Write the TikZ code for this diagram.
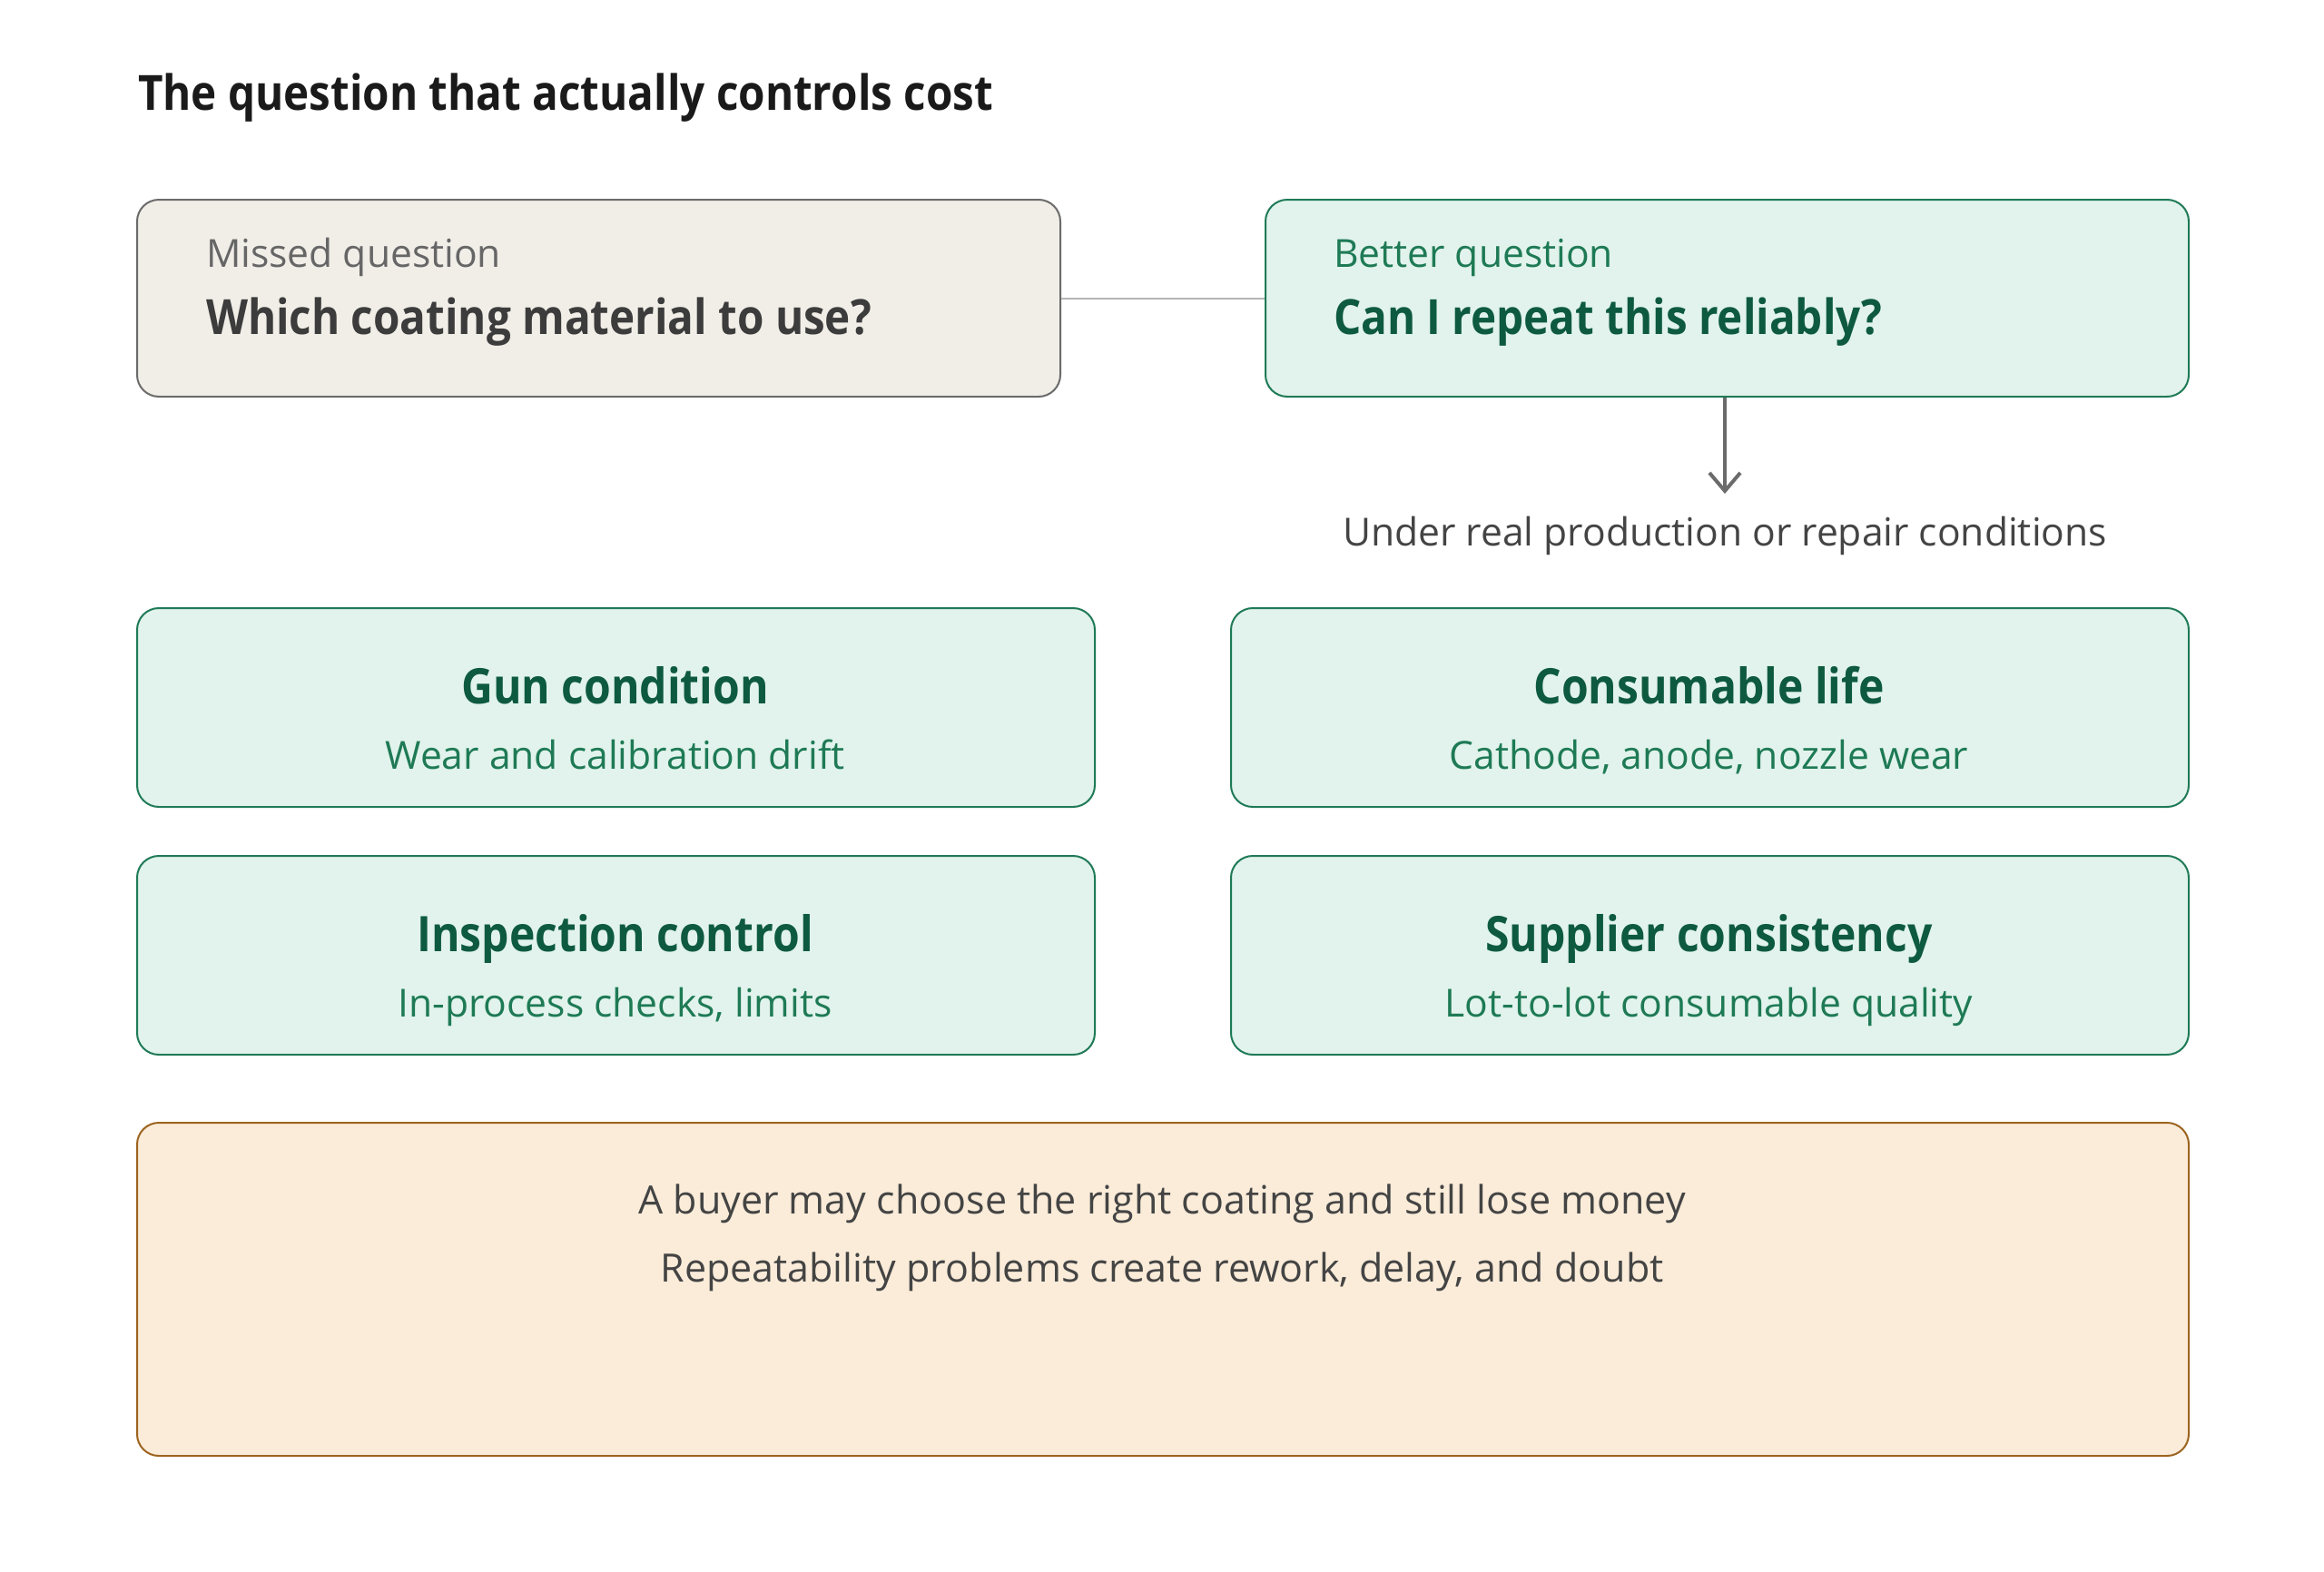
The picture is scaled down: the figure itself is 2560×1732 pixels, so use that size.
\documentclass[tikz,border=0pt]{standalone}
\usepackage{fontspec}
\setmainfont{Open Sans}[BoldFeatures={FakeStretch=0.89}]
\usetikzlibrary{arrows.meta}
\definecolor{missfill}{HTML}{F1EEE8}
\definecolor{missdraw}{HTML}{6B6B6B}
\definecolor{misslabel}{HTML}{666666}
\definecolor{missmain}{HTML}{3C3C3C}
\definecolor{greenfill}{HTML}{E1F3EC}
\definecolor{greendraw}{HTML}{1F7A57}
\definecolor{greenlabel}{HTML}{1E7A55}
\definecolor{greenmain}{HTML}{0E5A40}
\definecolor{notefill}{HTML}{FAECD9}
\definecolor{notedraw}{HTML}{9C6420}
\definecolor{linkgray}{HTML}{B5B5B5}
\definecolor{arrowgray}{HTML}{6B6B6B}
\definecolor{bodytext}{HTML}{444444}
\definecolor{titletext}{HTML}{1A1A1A}
\tikzset{
  boxbase/.style={draw, line width=2pt, rounded corners=24pt, anchor=north west, inner sep=0pt},
  missbox/.style={boxbase, fill=missfill, draw=missdraw, minimum width=1017pt, minimum height=217pt},
  betterbox/.style={boxbase, fill=greenfill, draw=greendraw, minimum width=1017pt, minimum height=217pt},
  gridbox/.style={boxbase, fill=greenfill, draw=greendraw, minimum width=1055pt, minimum height=219pt},
  notebox/.style={boxbase, fill=notefill, draw=notedraw, minimum width=2260pt, minimum height=367pt},
  txt/.style={inner sep=0pt, outer sep=0pt},
  smalllabel/.style={txt, anchor=base west, font=\fontsize{42.6}{50}\selectfont},
  mainq/.style={txt, anchor=base west, font=\fontsize{53.5}{62}\selectfont\bfseries},
  gridtitle/.style={txt, anchor=base, font=\fontsize{54}{62}\selectfont\bfseries, text=greenmain},
  gridsub/.style={txt, anchor=base, font=\fontsize{42.6}{50}\selectfont, text=greenlabel},
  bodyline/.style={txt, anchor=base, font=\fontsize{43}{52}\selectfont, text=bodytext},
}
\begin{document}
\begin{tikzpicture}[x=1pt,y=-1pt]
\useasboundingbox (0,0) rectangle (2560,1732);
\fill[white] (0,0) rectangle (2560,1732);

\node[txt, anchor=base west, font=\fontsize{53.5}{62}\selectfont\bfseries, text=titletext] (title) at (152,121) {The question that actually controls cost};

% top boxes
\node[missbox] (missed) at (150,219) {};
\node[betterbox] (better) at (1393,219) {};
\draw[linkgray, line width=2pt] (missed.east) -- (better.west);

\node[smalllabel, text=misslabel] (missedlabel) at (227,294) {Missed question};
\node[mainq, text=missmain] (missedq) at (227,368) {Which coating material to use?};
\node[smalllabel, text=greenlabel] (betterlabel) at (1469,294) {Better question};
\node[mainq, text=greenmain] (betterq) at (1469,368) {Can I repeat this reliably?};

\coordinate (arrowend) at (1900,544);
\draw[arrowgray, line width=4pt, -{Straight Barb[length=20pt, width=34pt, line width=4pt]}] (better.south -| arrowend) -- (arrowend);
\node[bodyline, font=\fontsize{42.6}{50}\selectfont] (under) at (1900,601) {Under real production or repair conditions};

% grid
\node[gridbox] (gun) at (150,669) {};
\node[gridbox] (consumable) at (1355,669) {};
\node[gridbox] (inspection) at (150,942) {};
\node[gridbox] (supplier) at (1355,942) {};

\node[gridtitle] (gunt) at (677.5,775) {Gun condition};
\node[gridsub] (guns) at (677.5,847) {Wear and calibration drift};
\node[gridtitle] (const) at (1882.5,775) {Consumable life};
\node[gridsub] (cons) at (1882.5,847) {Cathode, anode, nozzle wear};
\node[gridtitle] (inst) at (677.5,1048) {Inspection control};
\node[gridsub] (inss) at (677.5,1120) {In-process checks, limits};
\node[gridtitle] (supt) at (1882.5,1048) {Supplier consistency};
\node[gridsub] (sups) at (1882.5,1120) {Lot-to-lot consumable quality};

% bottom note
\node[notebox] (note) at (150,1236) {};
\node[bodyline] (note1) at (1280,1337) {A buyer may choose the right coating and still lose money};
\node[bodyline] (note2) at (1280,1412) {Repeatability problems create rework, delay, and doubt};
\end{tikzpicture}
\end{document}
